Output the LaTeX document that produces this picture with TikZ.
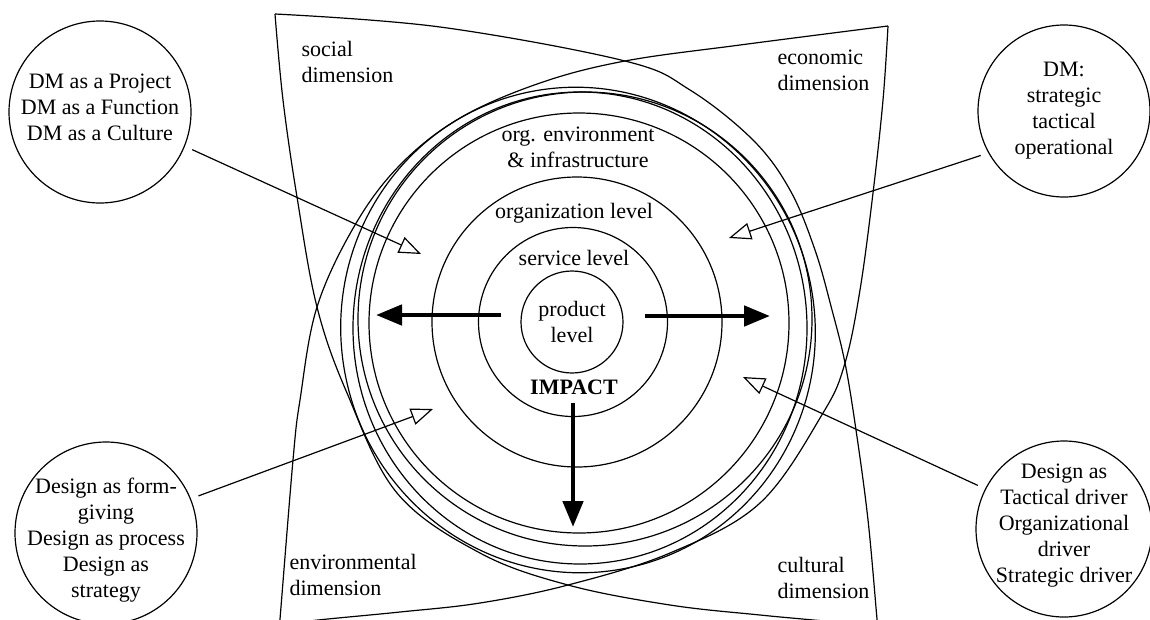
\documentclass[tikz,border=0pt]{standalone}
\usepackage{fontspec}
\setmainfont{Liberation Serif}
\usetikzlibrary{arrows.meta}

\begin{document}
\begin{tikzpicture}[
        x=1pt, y=-1pt,
        line width=1.2pt,
        every node/.style={font=\fontsize{22}{26}\selectfont, inner sep=0pt},
        ring/.style={draw, circle, minimum size=#1},
        txt/.style={align=center},
        boldtxt/.style={font=\fontsize{22}{26}\selectfont\bfseries},
        dimtxt/.style={align=left, anchor=west},
        opentip/.style={-{Triangle[fill=white, length=22pt, width=17pt]}, shorten <=8pt},
        bigtip/.style={-{Triangle[length=26pt, width=20pt]}, line width=4.7pt}
    ]
    \useasboundingbox (0,0) rectangle (1150,619);

    % the two crossed lenses of the dimensions
    \draw plot[smooth, tension=0.6] coordinates {(275,14) (440,27) (625,61) (690,90) (753,140) (790,190) (815,250) (832,310) (845,363) (856,430) (868,520) (877,619) (879,640)};
    \draw plot[smooth, tension=0.6] coordinates {(275,14) (283,100) (297,197) (317,307) (347,393) (397,493) (480,553) (568,585) (670,605) (760,615) (834,622) (860,626)};
    \draw plot[smooth, tension=0.6] coordinates {(888,26) (740,45) (625,61) (540,83) (460,118) (400,165) (355,225) (317,307) (300,400) (293,460) (280,619) (278,640)};
    \draw plot[smooth, tension=0.6] coordinates {(888,26) (883,100) (873,193) (860,290) (845,363) (823,413) (760,503) (670,553) (568,585) (480,603) (400,612) (318,620) (290,624)};

    % outer rings
    \draw (585,319) circle [radius=227];
    \draw (580,328) ellipse [x radius=227, y radius=236];
    \draw [rotate around={12:(578,330)}] (578,330) ellipse [x radius=237, y radius=243];

    \draw
        (579,323) node[ring=420pt] (orgenv) {}
        (577,322) node[ring=290pt] (orglevel) {}
        (573,322) node[ring=189pt] (service) {}
        (572,322) node[ring=102pt, txt] (product) {product\\level}
        (578,147) node[txt] (orgenvlbl) {org. environment\\\& infrastructure}
        (574,213) node (orglevellbl) {organization level}
        (574,258) node (servicelbl) {service level}
        (574,387) node[boldtxt] (impact) {IMPACT}

        (301,62) node[dimtxt] (social) {social\\dimension}
        (777,70) node[dimtxt] (economic) {economic\\dimension}
        (289,575) node[dimtxt] (environ) {environmental\\dimension}
        (777,578) node[dimtxt] (cultural) {cultural\\dimension}

        (100,112) node[ring=182pt] (proj) {}
        (100,107) node[txt] {DM as a Project\\DM as a Function\\DM as a Culture}
        (1064,111) node[ring=172pt] (levels) {}
        (1064,111) node[txt] {DM:\\strategic\\tactical\\operational}
        (106,533) node[ring=182pt] (form) {}
        (106,540) node[txt] {Design as form-\\giving\\Design as process\\Design as\\strategy}
        (1064,529) node[ring=176pt] (driver) {}
        (1064,526) node[txt] {Design as\\Tactical driver\\Organizational\\driver\\Strategic driver}

        (421,254) coordinate (projtip)
        (729,238) coordinate (levelstip)
        (433,409) coordinate (formtip)
        (743,377) coordinate (drivertip)
        (501,315) coordinate (leftfrom)
        (376,315) coordinate (leftto)
        (645,316) coordinate (rightfrom)
        (770,316) coordinate (rightto)
        (573,403) coordinate (downfrom)
        (573,527) coordinate (downto)

        (proj.338) edge[opentip] (projtip)
        (levels.209) edge[opentip] (levelstip)
        (form.22) edge[opentip] (formtip)
        (driver.153) edge[opentip] (drivertip)

        (leftfrom) edge[bigtip] (leftto)
        (rightfrom) edge[bigtip] (rightto)
        (downfrom) edge[bigtip] (downto)
        ;
\end{tikzpicture}
\end{document}
